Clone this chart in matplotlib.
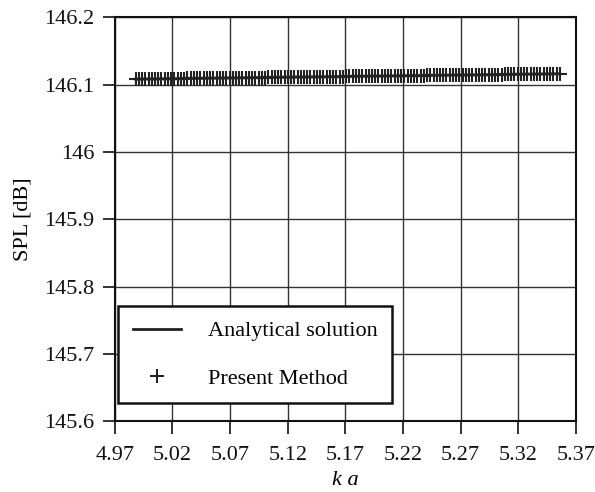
import numpy as np
import matplotlib
matplotlib.use('Agg')
import matplotlib.pyplot as plt

plt.rcParams['font.family'] = ['Liberation Serif', 'DejaVu Serif']

# axis ticks
x_ticks = [4.97, 5.02, 5.07, 5.12, 5.17, 5.22, 5.27, 5.32, 5.37]
x_labels = ['4.97', '5.02', '5.07', '5.12', '5.17', '5.22', '5.27', '5.32', '5.37']
y_ticks = [145.6, 145.7, 145.8, 145.9, 146.0, 146.1, 146.2]
y_labels = ['145.6', '145.7', '145.8', '145.9', '146', '146.1', '146.2']

# sampling of k a (dense, ~0.0028 apart)
ka = np.linspace(4.988, 5.356, 132)

# SPL (dB)
spl = [
    146.1080, 146.1081, 146.1081, 146.1082, 146.1082, 146.1083, 146.1084, 146.1084, 146.1085, 146.1085, 146.1086, 146.1087,
    146.1087, 146.1088, 146.1089, 146.1089, 146.1090, 146.1090, 146.1091, 146.1092, 146.1092, 146.1093, 146.1093, 146.1094,
    146.1095, 146.1095, 146.1096, 146.1096, 146.1097, 146.1098, 146.1098, 146.1099, 146.1100, 146.1100, 146.1101, 146.1101,
    146.1102, 146.1103, 146.1103, 146.1104, 146.1104, 146.1105, 146.1106, 146.1106, 146.1107, 146.1107, 146.1108, 146.1109,
    146.1109, 146.1110, 146.1111, 146.1111, 146.1112, 146.1112, 146.1113, 146.1114, 146.1114, 146.1115, 146.1115, 146.1116,
    146.1117, 146.1117, 146.1118, 146.1118, 146.1119, 146.1120, 146.1120, 146.1121, 146.1121, 146.1122, 146.1123, 146.1123,
    146.1124, 146.1125, 146.1125, 146.1126, 146.1126, 146.1127, 146.1128, 146.1128, 146.1129, 146.1129, 146.1130, 146.1131,
    146.1131, 146.1132, 146.1132, 146.1133, 146.1134, 146.1134, 146.1135, 146.1136, 146.1136, 146.1137, 146.1137, 146.1138,
    146.1139, 146.1139, 146.1140, 146.1140, 146.1141, 146.1142, 146.1142, 146.1143, 146.1143, 146.1144, 146.1145, 146.1145,
    146.1146, 146.1146, 146.1147, 146.1148, 146.1148, 146.1149, 146.1150, 146.1150, 146.1151, 146.1151, 146.1152, 146.1153,
    146.1153, 146.1154, 146.1154, 146.1155, 146.1156, 146.1156, 146.1157, 146.1157, 146.1158, 146.1159, 146.1159, 146.1160,
]

fig = plt.figure(figsize=(5.95, 4.92), dpi=100)
ax = fig.add_axes([0.193, 0.144, 0.775, 0.821])

ax.plot(ka, spl, color='#222222', lw=2.0, label='Analytical solution', zorder=3)
ax.plot(ka, spl, ls='none', marker='+', ms=10, mew=1.5, color='#222222',
        label='Present Method', zorder=4)

ax.set_xlim(4.97, 5.37)
ax.set_ylim(145.6, 146.2)
ax.set_xticks(x_ticks)
ax.set_xticklabels(x_labels)
ax.set_yticks(y_ticks)
ax.set_yticklabels(y_labels)
ax.tick_params(direction='out', length=9, width=1.2, labelsize=16, pad=6, colors='#111111')
ax.tick_params(axis='x', pad=9)
ax.grid(True, color='#333333', lw=1.0)
ax.set_axisbelow(True)
for s in ax.spines.values():
    s.set_linewidth(1.5)
    s.set_color('#111111')

ax.set_xlabel('k a', fontsize=16, style='italic', labelpad=4)
ax.set_ylabel('SPL [dB]', fontsize=16, labelpad=8)

leg = ax.legend(loc='lower left', bbox_to_anchor=(0.007, 0.045), borderaxespad=0,
                fontsize=16, fancybox=False, framealpha=1, edgecolor='#111111',
                handlelength=2.2, handletextpad=1.2, borderpad=0.65, labelspacing=1.2)
leg.get_frame().set_linewidth(1.8)

fig.savefig('out.png', dpi=100)
